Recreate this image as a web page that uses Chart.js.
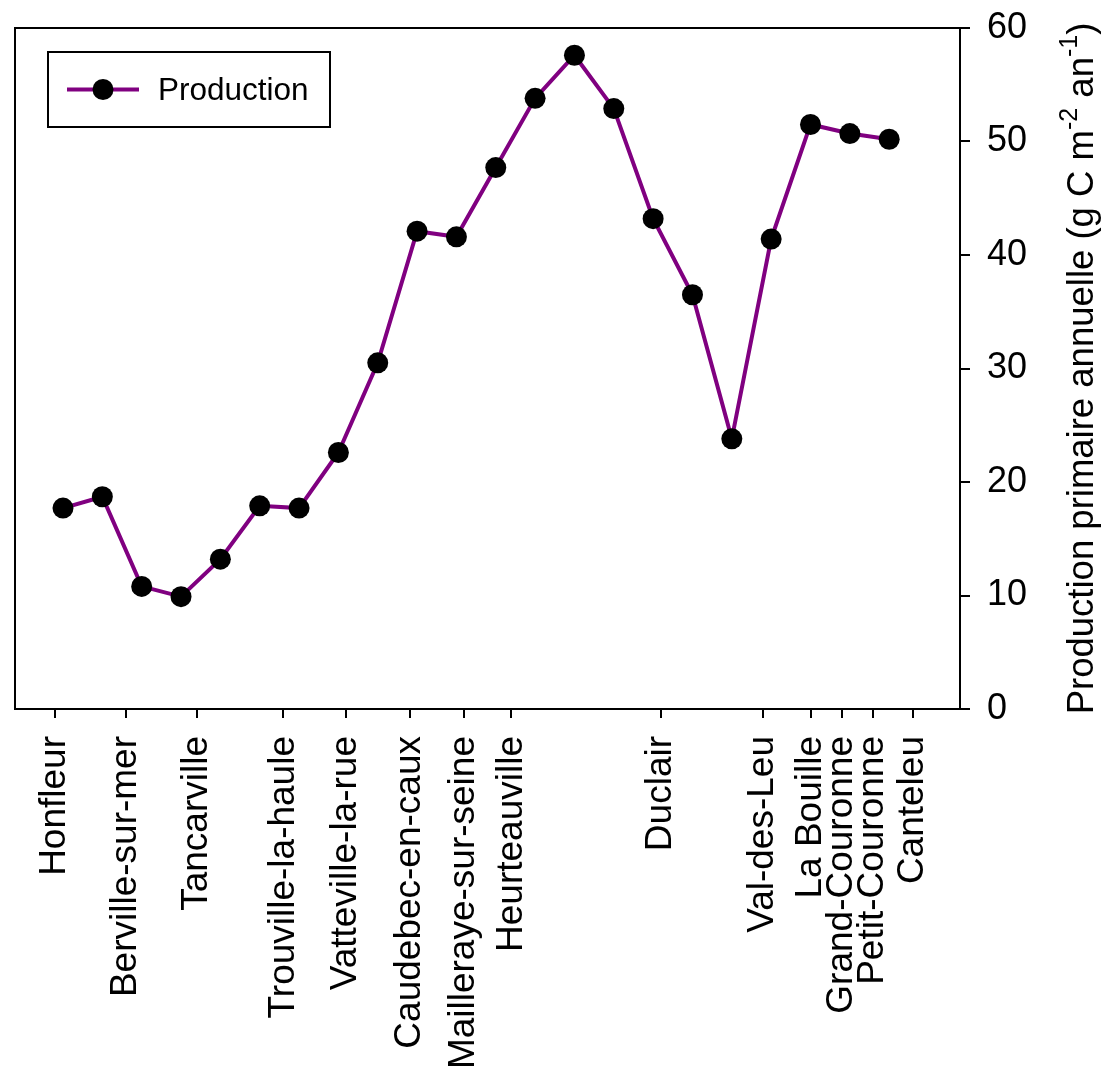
<!DOCTYPE html>
<html>
<head>
<meta charset="utf-8">
<script src="https://cdn.jsdelivr.net/npm/chart.js@4.4.0/dist/chart.umd.min.js"></script>
<style>
  html, body { margin: 0; padding: 0; background: #fff; }
  canvas { display: block; }
</style>
</head>
<body>
<canvas id="chart" width="1105" height="1071"></canvas>
<script>
// Annual primary production along the Seine estuary, one value per sampling site (upstream order)
const production = [17.7, 18.7, 10.8, 9.9, 13.2, 17.9, 17.7, 22.6, 30.5, 42.1, 41.6, 47.7, 53.8, 57.6, 52.9, 43.2, 36.5, 23.8, 41.4, 51.5, 50.7, 50.2];

// Towns marked along the river and their position on the sampling axis
const townNames = ['Honfleur', 'Berville-sur-mer', 'Tancarville', 'Trouville-la-haule', 'Vatteville-la-rue',
  'Caudebec-en-caux', 'Mailleraye-sur-seine', 'Heurteauville', 'Duclair', 'Val-des-Leu',
  'La Bouille', 'Grand-Couronne', 'Petit-Couronne', 'Canteleu'];
const townPos = [-0.21, 1.59, 3.40, 5.60, 7.20, 8.81, 10.20, 11.40, 15.20, 17.79, 19.01, 19.80, 20.59, 21.60];

const yTicks = [0, 10, 20, 30, 40, 50, 60];

const FONT = '"Liberation Sans", Arial, Helvetica, sans-serif';
const LINE_COLOR = '#800080';

const points = production.map((v, i) => ({ x: i, y: v }));

// Frame, y-axis title with superscripts, and the boxed legend
const decorations = {
  id: 'decorations',
  afterDraw(chart) {
    const ctx = chart.ctx;
    const a = chart.chartArea;
    ctx.save();
    // top and left edges of the frame
    ctx.strokeStyle = '#000';
    ctx.lineWidth = 2;
    ctx.beginPath();
    ctx.moveTo(a.left, a.bottom);
    ctx.lineTo(a.left, a.top);
    ctx.lineTo(a.right, a.top);
    ctx.stroke();

    // y-axis title, reading bottom to top
    const parts = [
      { t: 'Production primaire annuelle (g C m', sup: false },
      { t: '-2', sup: true },
      { t: ' an', sup: false },
      { t: '-1', sup: true },
      { t: ')', sup: false }
    ];
    const mainFont = '36.5px ' + FONT;
    const supFont = '25px ' + FONT;
    let total = 0;
    parts.forEach(p => {
      ctx.font = p.sup ? supFont : mainFont;
      p.w = ctx.measureText(p.t).width;
      total += p.w;
    });
    ctx.translate(1083, (a.top + a.bottom) / 2);
    ctx.rotate(-Math.PI / 2);
    ctx.fillStyle = '#000';
    ctx.textBaseline = 'middle';
    ctx.textAlign = 'left';
    let x = -total / 2;
    parts.forEach(p => {
      ctx.font = p.sup ? supFont : mainFont;
      ctx.fillText(p.t, x, p.sup ? -13 : 0);
      x += p.w;
    });
    ctx.restore();

    // legend
    ctx.save();
    ctx.strokeStyle = '#000';
    ctx.lineWidth = 2;
    ctx.strokeRect(48, 52, 282, 75);
    const ds = chart.data.datasets[0];
    ctx.strokeStyle = ds.borderColor;
    ctx.lineWidth = ds.borderWidth;
    ctx.beginPath();
    ctx.moveTo(67, 89.5);
    ctx.lineTo(139, 89.5);
    ctx.stroke();
    ctx.fillStyle = ds.pointBackgroundColor;
    ctx.beginPath();
    ctx.arc(103, 89.5, ds.pointRadius, 0, Math.PI * 2);
    ctx.fill();
    ctx.fillStyle = '#000';
    ctx.font = '31.5px ' + FONT;
    ctx.textBaseline = 'middle';
    ctx.textAlign = 'left';
    ctx.fillText(ds.label, 158, 91);
    ctx.restore();
  }
};

new Chart(document.getElementById('chart'), {
  type: 'line',
  data: {
    datasets: [{
      label: 'Production',
      data: points,
      borderColor: LINE_COLOR,
      borderWidth: 4,
      pointRadius: 10.5,
      pointHoverRadius: 10.5,
      pointBackgroundColor: '#000',
      pointBorderColor: '#000',
      pointBorderWidth: 0,
      tension: 0,
      clip: false
    }]
  },
  options: {
    responsive: false,
    devicePixelRatio: 1,
    animation: false,
    layout: { padding: { left: 15, top: 28, right: 0, bottom: 0 } },
    plugins: { legend: { display: false }, tooltip: { enabled: false } },
    scales: {
      x: {
        type: 'linear',
        min: -1.22,
        max: 22.80,
        afterBuildTicks(scale) {
          scale.ticks = townPos.map(v => ({ value: v }));
        },
        afterFit(scale) {
          scale.height = 1071 - 709;
          scale.paddingLeft = 0;
          scale.paddingRight = 0;
        },
        border: { display: true, color: '#000', width: 2 },
        grid: { drawOnChartArea: false, drawTicks: true, tickLength: 9, color: '#000', lineWidth: 2 },
        ticks: {
          autoSkip: false,
          minRotation: 90,
          maxRotation: 90,
          padding: 18,
          color: '#000',
          font: { family: FONT, size: 37 },
          callback(value, index) { return townNames[index]; }
        }
      },
      y: {
        position: 'right',
        min: 0,
        max: 60,
        afterBuildTicks(scale) {
          scale.ticks = yTicks.map(v => ({ value: v }));
        },
        afterFit(scale) {
          scale.width = 1105 - 960;
          scale.paddingTop = 0;
          scale.paddingBottom = 0;
        },
        border: { display: true, color: '#000', width: 2 },
        grid: { drawOnChartArea: false, drawTicks: true, tickLength: 10, color: '#000', lineWidth: 2 },
        ticks: {
          padding: 17,
          color: '#000',
          font: { family: FONT, size: 36 }
        }
      }
    }
  },
  plugins: [decorations]
});
</script>
</body>
</html>
